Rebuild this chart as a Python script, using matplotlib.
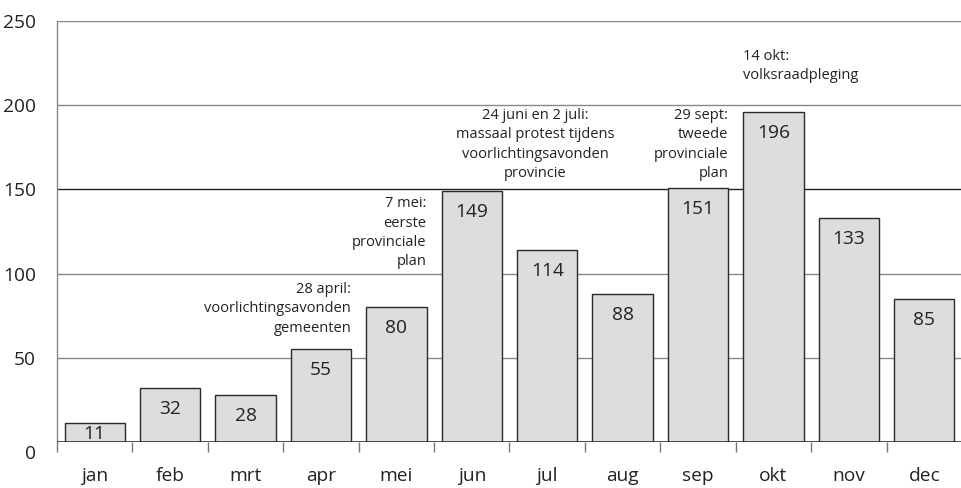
import matplotlib
matplotlib.use("Agg")
import matplotlib.pyplot as plt
from matplotlib.transforms import ScaledTranslation

months = ["jan", "feb", "mrt", "apr", "mei", "jun", "jul", "aug", "sep", "okt", "nov", "dec"]
counts = [11, 32, 28, 55, 80, 149, 114, 88, 151, 196, 133, 85]
yticks = [0, 50, 100, 150, 200, 250]

notes = [
    "28 april:\nvoorlichtingsavonden\ngemeenten",
    "7 mei:\neerste\nprovinciale\nplan",
    "24 juni en 2 juli:\nmassaal protest tijdens\nvoorlichtingsavonden\nprovincie",
    "29 sept:\ntweede\nprovinciale\nplan",
    "14 okt:\nvolksraadpleging",
]
# (x, y, ha) placement of each note in data coordinates
note_pos = [(3.4, 95, "right"), (4.4, 146, "right"), (5.84, 198.5, "center"),
            (8.4, 198.5, "right"), (8.6, 233.5, "left")]

plt.rcParams["font.family"] = ["Open Sans", "DejaVu Sans"]
TXT = "#222222"

fig = plt.figure(figsize=(9.62, 4.88), dpi=100)
ax = fig.add_axes([57 / 962, 46 / 488, 905 / 962, 421 / 488])

x = list(range(len(months)))
ax.bar(x, counts, width=0.8, color="#dcdddf", edgecolor="#2a2a2a", linewidth=1.0, zorder=3)

for xi, v in zip(x, counts):
    h_px = v * 421 / 250
    if h_px < 32:
        ax.annotate(str(v), (xi, 0), xytext=(0, 3), textcoords="offset pixels",
                    ha="center", va="baseline", fontsize=13.8, color=TXT, zorder=4)
    else:
        ax.annotate(str(v), (xi, v), xytext=(0, -26), textcoords="offset pixels",
                    ha="center", va="baseline", fontsize=13.8, color=TXT, zorder=4)

for t, (px, py, ha) in zip(notes, note_pos):
    ax.text(px, py, t, ha=ha, va="top", fontsize=10.5, color=TXT, linespacing=1.4, zorder=4)

ax.set_xlim(-0.5, 11.5)
ax.set_ylim(0, 250)
ax.set_yticks(yticks)
ax.set_yticklabels([str(v) for v in yticks], fontsize=13.8, color=TXT)
ax.tick_params(axis="y", length=0, pad=15)
for yv in yticks[1:]:
    ax.axhline(yv, color="#222222" if yv == 150 else "#888888", linewidth=1.0, zorder=1)
ax.axhline(0, color="#333333", linewidth=1.2, zorder=5)

ax.set_xticks(x)
ax.set_xticklabels(months, fontsize=13.8, color=TXT)
ax.set_xticks([i - 0.5 for i in range(12)], minor=True)
ax.tick_params(axis="x", which="major", length=0, pad=18)
ax.tick_params(axis="x", which="minor", length=7.5, width=1.0, color="#777777", direction="out")

for s in ["top", "right", "bottom"]:
    ax.spines[s].set_visible(False)
ax.spines["left"].set_color("#888888")
ax.spines["left"].set_linewidth(1.0)

for lab in ax.get_yticklabels():
    if lab.get_text() == "0":
        lab.set_transform(lab.get_transform() + ScaledTranslation(0, -0.10, fig.dpi_scale_trans))

fig.savefig("out.png", dpi=100)
